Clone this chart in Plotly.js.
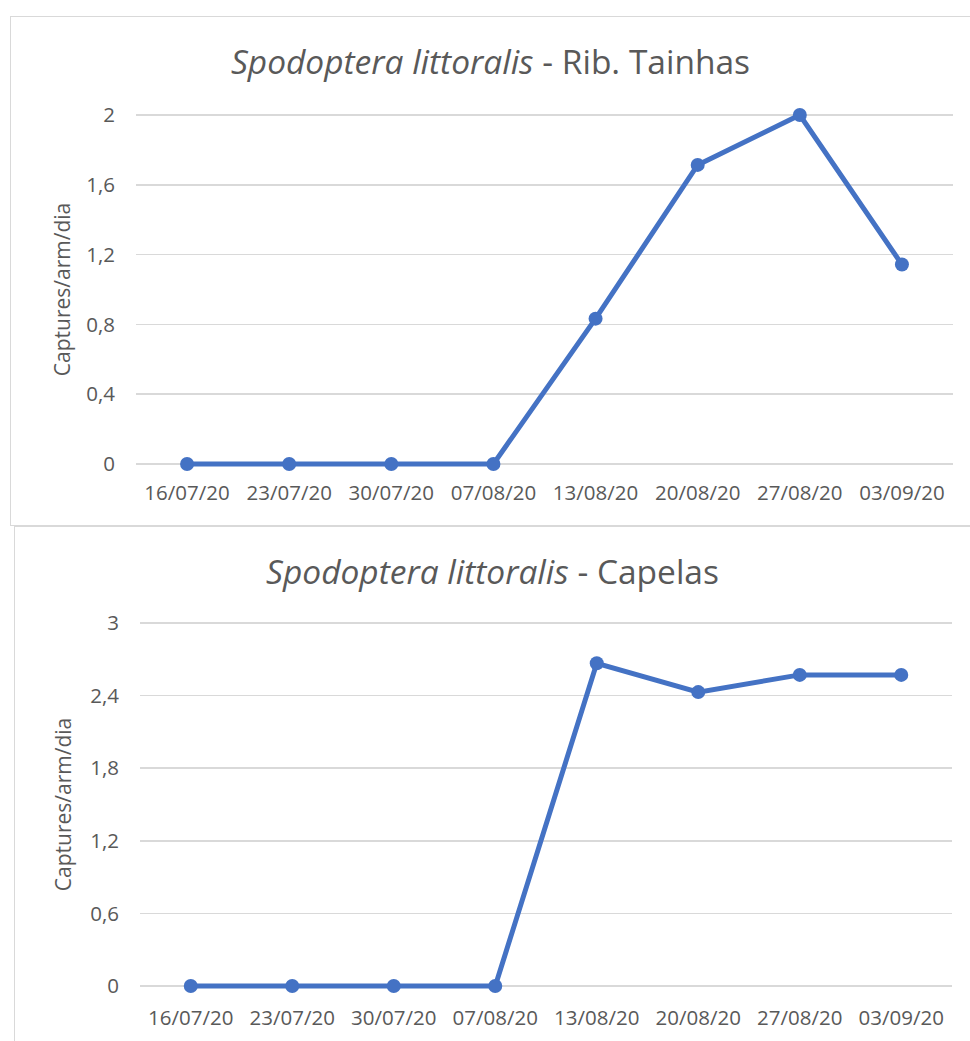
<!DOCTYPE html>
<html>
<head>
<meta charset="utf-8">
<script src="https://cdn.plot.ly/plotly-3.0.1.min.js"></script>
<style>
  html, body { margin: 0; padding: 0; background: #fff; width: 970px; height: 1041px; overflow: hidden; }
  .box { position: absolute; box-sizing: border-box; border: 1.5px solid #D9D9D9; background: #fff; }
  #c1 { left: 10px; top: 16px; width: 962px; height: 510px; }
  #c2 { left: 14px; top: 526px; width: 958px; height: 518px; }
</style>
</head>
<body>
<div id="c1" class="box"></div>
<div id="c2" class="box"></div>
<script>
const dates = ["16/07/20", "23/07/20", "30/07/20", "07/08/20", "13/08/20", "20/08/20", "27/08/20", "03/09/20"];
const tainhasValues = [0, 0, 0, 0, 0.833, 1.714, 2.0, 1.143];
const capelasValues = [0, 0, 0, 0, 2.667, 2.429, 2.571, 2.571];
const tainhasTicks = [0, 0.4, 0.8, 1.2, 1.6, 2];
const tainhasTickText = ["0", "0,4", "0,8", "1,2", "1,6", "2"];
const capelasTicks = [0, 0.6, 1.2, 1.8, 2.4, 3];
const capelasTickText = ["0", "0,6", "1,2", "1,8", "2,4", "3"];

const FONT = "'Open Sans', 'Noto Sans', sans-serif";
const GREY = "#595959";
const BLUE = "#4472C4";
const PADPX = 7; // extra pixels above/below the gridded range so the thick line is not clipped

function makeChart(id, values, ticks, tickText, yMax, titleText, w, h, margin, titleY, xStandoff, yTitleStandoff) {
  const innerH = h - margin.t - margin.b;
  const pxPerUnit = innerH / yMax;
  const d = PADPX / pxPerUnit;
  const m = { l: margin.l, r: margin.r, t: margin.t - PADPX, b: margin.b - PADPX, pad: 0 };
  const trace = {
    x: dates, y: values, type: "scatter", mode: "lines+markers",
    line: { color: BLUE, width: 5 },
    marker: { color: BLUE, size: 14 },
    cliponaxis: false, hoverinfo: "skip"
  };
  const layout = {
    width: w, height: h,
    margin: m,
    paper_bgcolor: "#fff", plot_bgcolor: "#fff",
    showlegend: false,
    font: { family: FONT, color: GREY, size: 21 },
    title: {
      text: titleText, font: { family: FONT, size: 33.5, color: GREY },
      x: 0.5, xref: "container", y: titleY, yref: "container", yanchor: "middle", xanchor: "center"
    },
    xaxis: {
      type: "category", categoryarray: dates, range: [-0.5, 7.5],
      showgrid: false, zeroline: false, showline: false, ticks: "",
      tickfont: { family: FONT, size: 20.5, color: GREY },
      ticklabelstandoff: xStandoff - PADPX, fixedrange: true
    },
    yaxis: {
      range: [-d, yMax + d], tickvals: ticks, ticktext: tickText,
      showgrid: true, gridcolor: "#D9D9D9", gridwidth: 1.5,
      zeroline: false, showline: false, ticks: "",
      tickfont: { family: FONT, size: 20.5, color: GREY },
      ticklabelstandoff: 20,
      title: { text: "Captures/arm/dia", font: { family: FONT, size: 21, color: GREY }, standoff: yTitleStandoff },
      automargin: false, fixedrange: true
    }
  };
  Plotly.newPlot(id, [trace], layout, { staticPlot: true, displayModeBar: false });
}

makeChart("c1", tainhasValues, tainhasTicks, tainhasTickText, 2,
  "<i>Spodoptera littoralis</i> - Rib. Tainhas", 959, 507,
  { l: 125, r: 17, t: 98, b: 60 }, 0.91, 14, 9);
makeChart("c2", capelasValues, capelasTicks, capelasTickText, 3,
  "<i>Spodoptera littoralis</i> - Capelas", 955, 515,
  { l: 125, r: 18, t: 96, b: 56 }, 0.913, 17, 12);
</script>
</body>
</html>
